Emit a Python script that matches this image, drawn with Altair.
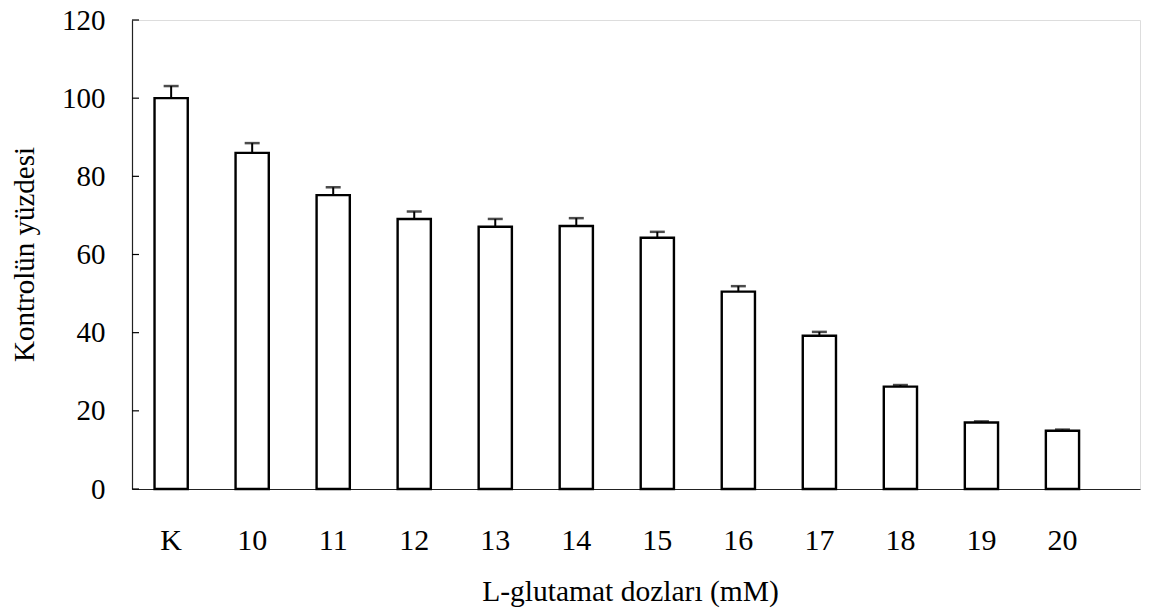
import altair as alt
import pandas as pd

doses = ["K", "10", "11", "12", "13", "14", "15", "16", "17", "18", "19", "20"]
means = [100.0, 86.0, 75.2, 69.1, 67.1, 67.3, 64.3, 50.5, 39.2, 26.2, 17.0, 14.9]
errors = [3.1, 2.5, 2.0, 1.9, 2.0, 2.0, 1.5, 1.4, 1.0, 0.4, 0.3, 0.3]
y_ticks = [0, 20, 40, 60, 80, 100, 120]

df = pd.DataFrame({"doz": doses, "mean": means, "err": errors})
df["upper"] = df["mean"] + df["err"]
ticks_df = pd.DataFrame({"v": y_ticks})

FONT = "Liberation Serif"

xscale = alt.Scale(domain=doses, paddingInner=0.59, paddingOuter=0.515, align=0.27)
yscale = alt.Scale(domain=[0, 120], nice=False, zero=True)

base = alt.Chart(df)

bars = base.mark_bar(fill="white", stroke="black", strokeWidth=2.4).encode(
    x=alt.X("doz:N", scale=xscale, sort=doses,
            axis=alt.Axis(title="L-glutamat dozları (mM)", labelAngle=0, ticks=False,
                          domain=True, domainColor="#222222", domainWidth=1.2,
                          labelPadding=36, titlePadding=22, titleX=498,
                          labelFont=FONT, labelFontSize=30, labelColor="black",
                          titleFont=FONT, titleFontSize=29.5, titleFontWeight="normal",
                          titleColor="black")),
    y=alt.Y("mean:Q", scale=yscale,
            axis=alt.Axis(title="Kontrolün yüzdesi", values=y_ticks, ticks=False,
                          grid=False, domain=True, domainColor="#222222", domainWidth=1.2,
                          labelPadding=27, labelFont=FONT, labelFontSize=29,
                          labelColor="black", titleFont=FONT, titleFontSize=29,
                          titleFontWeight="normal", titleColor="black",
                          titleX=-93, titleY=234)),
)

err_line = base.mark_rule(color="black", strokeWidth=2).encode(
    x=alt.X("doz:N", scale=xscale, sort=doses),
    y="mean:Q",
    y2="upper:Q",
)

caps = base.mark_tick(color="black", thickness=2.5, size=15, orient="horizontal").encode(
    x=alt.X("doz:N", scale=xscale, sort=doses),
    y=alt.Y("upper:Q", scale=yscale),
)

inner_ticks = alt.Chart(ticks_df).mark_rule(color="black", strokeWidth=1.2).encode(
    y=alt.Y("v:Q", scale=yscale),
    x=alt.value(0),
    x2=alt.value(7),
)

chart = alt.layer(bars, err_line, caps, inner_ticks).properties(
    width=1008, height=469,
    autosize=alt.AutoSizeParams(type="none"),
    padding={"left": 132, "top": 20, "right": 9, "bottom": 125},
).configure_view(stroke=None).configure(background="white")

chart.save("out.html", embed_options={"renderer": "svg", "actions": False})
